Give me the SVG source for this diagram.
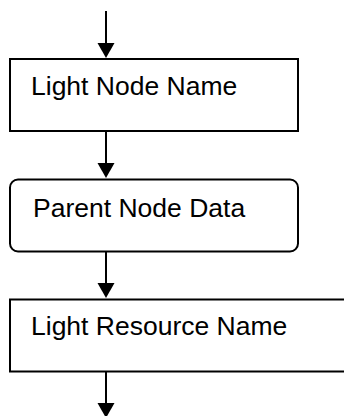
<svg xmlns="http://www.w3.org/2000/svg" width="344" height="416" viewBox="0 0 344 416">
<style>
.box{fill:#fff;stroke:#000;stroke-width:2}
.lbl{font-family:"Liberation Sans",Arial,sans-serif;font-size:26.5px;fill:#000}
.edge{stroke:#000;stroke-width:2;fill:none}
.head{fill:#000}
</style>
<rect width="344" height="416" fill="#fff"/>
<g id="connectors">
<line class="edge" x1="106" y1="11" x2="106" y2="45"/>
<polygon class="head" points="97.5,43 114.5,43 106,58"/>
<line class="edge" x1="106" y1="131" x2="106" y2="165"/>
<polygon class="head" points="97.5,163 114.5,163 106,178"/>
<line class="edge" x1="106" y1="252" x2="106" y2="285"/>
<polygon class="head" points="97.5,283 114.5,283 106,298"/>
<line class="edge" x1="106" y1="372" x2="106" y2="405"/>
<polygon class="head" points="97.5,403 114.5,403 106,418"/>
</g>
<g id="light-node-name">
<rect class="box" x="10" y="59" width="288" height="72"/>
<text class="lbl" x="31" y="95">Light Node Name</text>
</g>
<g id="parent-node-data">
<rect class="box" x="10" y="179.5" width="288" height="72" rx="8" ry="8"/>
<text class="lbl" x="33" y="216.5">Parent Node Data</text>
</g>
<g id="light-resource-name">
<rect class="box" x="10" y="299.5" width="360" height="72"/>
<text class="lbl" x="31" y="335">Light Resource Name</text>
</g>
</svg>
